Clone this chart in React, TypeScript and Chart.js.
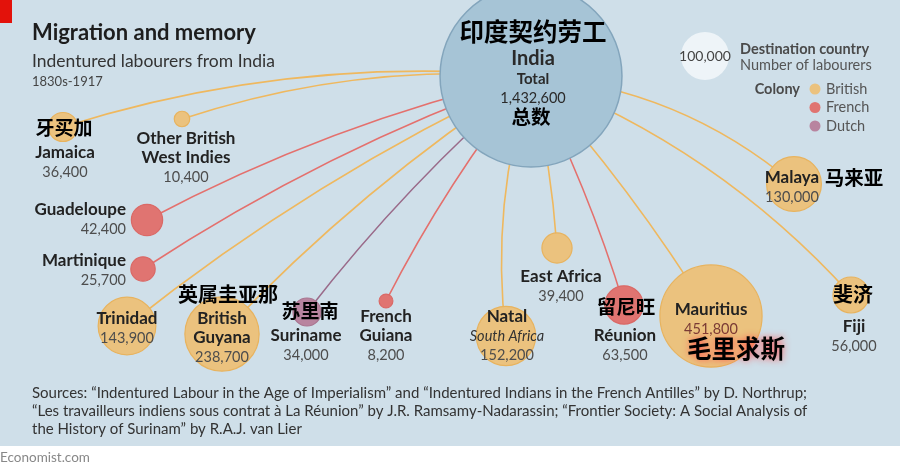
import React, { useEffect, useRef } from 'react';
import { Chart, registerables } from 'chart.js';

Chart.register(...registerables);

// ---------- data ----------
const destinations = [
  'Jamaica', 'Other British West Indies', 'Guadeloupe', 'Martinique', 'Trinidad',
  'British Guyana', 'Suriname', 'French Guiana', 'Natal', 'East Africa',
  'Réunion', 'Mauritius', 'Malaya', 'Fiji',
];
const labourers = [36400, 10400, 42400, 25700, 143900, 238700, 34000, 8200, 152200, 39400, 63500, 451800, 130000, 56000];
const colonies = ['British', 'British', 'French', 'French', 'British', 'British', 'Dutch', 'French', 'British', 'British', 'French', 'British', 'British', 'British'];
const chineseNames = ['牙买加', '', '', '', '', '英属圭亚那', '苏里南', '', '', '', '留尼旺', '毛里求斯', '马来亚', '斐济'];
const nameLines = [
  ['Jamaica'], ['Other British', 'West Indies'], ['Guadeloupe'], ['Martinique'], ['Trinidad'],
  ['British', 'Guyana'], ['Suriname'], ['French', 'Guiana'], ['Natal'], ['East Africa'],
  ['Réunion'], ['Mauritius'], ['Malaya'], ['Fiji'],
];
const subNames = ['', '', '', '', '', '', '', '', 'South Africa', '', '', '', '', ''];
const originName = 'India';
const originTotal = 1432600;
const legendValue = 100000;
const colonyTypes = ['British', 'French', 'Dutch'];

// ---------- layout (positions on a 900 x 472 plane) ----------
const origin = { x: 531, y: 76 };
const legendBubble = { x: 705, y: 56 };
const bubbleX = [63, 182, 147, 143, 127, 222, 307, 386, 506, 557, 624, 711, 794, 851];
const bubbleY = [127, 119, 220, 269, 326, 334, 312, 301, 336, 248, 305, 316, 184, 295];
const curveBend = [0.10, 0.10, 0.065, 0.06, 0.06, 0.06, 0.05, 0.05, 0.11, 0.04, 0.045, 0.045, 0.16, 0.12];
const labelX = [65, 186, 126, 126, 127, 222, 306, 386, 507, 561, 625, 711, 792, 854];
const labelY = [153, 139, 210, 261, 319, 319, 336, 317, 317, 277, 336, 310, 178, 327];
const labelAlign = ['center', 'center', 'right', 'right', 'center', 'center', 'center', 'center', 'center', 'center', 'center', 'center', 'center', 'center'];
const cnX = [64, 0, 0, 0, 0, 228, 310, 0, 0, 0, 626, 736, 854, 853];
const cnY = [128, 0, 0, 0, 0, 294, 311, 0, 0, 0, 307, 349, 178, 294];
const cnSize = [19, 0, 0, 0, 0, 20, 19, 0, 0, 0, 19.5, 24.5, 19.5, 20];

const RADIUS_K = 0.076;
const fillColor: Record<string, string> = { British: '#ebc27e', French: '#e07471', Dutch: '#b8849f' };
const borderColor: Record<string, string> = { British: '#e8b35e', French: '#da6966', Dutch: '#a97590' };
const lineColor: Record<string, string> = { British: '#efb85e', French: '#e4706d', Dutch: '#9a6b8a' };

const LATIN = 'Lato, "Open Sans", sans-serif';
const CJK = '"Noto Sans CJK SC", sans-serif';

const fmt = (v: number) => v.toLocaleString('en-US');
const radius = (v: number) => RADIUS_K * Math.sqrt(v);

export default function App() {
  const ref = useRef<HTMLCanvasElement | null>(null);

  useEffect(() => {
    document.body.style.margin = '0';
    const canvas = ref.current;
    if (!canvas) return;

    const backgroundPlugin = {
      id: 'bg',
      beforeDraw(chart: any) {
        const ctx = chart.ctx;
        ctx.save();
        ctx.fillStyle = '#ffffff';
        ctx.fillRect(0, 0, chart.width, chart.height);
        ctx.fillStyle = '#cfdfe9';
        ctx.fillRect(0, 0, chart.width, 446);
        ctx.fillStyle = '#e3120b';
        ctx.fillRect(0, 0, 12, 23);
        ctx.textBaseline = 'middle';
        ctx.textAlign = 'left';
        ctx.fillStyle = '#1d1d1d';
        ctx.font = `bold 22px ${LATIN}`;
        ctx.fillText('Migration and memory', 32, 33);
        ctx.fillStyle = '#333';
        ctx.font = `17.5px ${LATIN}`;
        ctx.fillText('Indentured labourers from India', 32, 61);
        ctx.fillStyle = '#444';
        ctx.font = `13px ${LATIN}`;
        ctx.fillText('1830s-1917', 32, 82);
        // sources
        ctx.fillStyle = '#333';
        ctx.font = `15px ${LATIN}`;
        ctx.fillText('Sources: “Indentured Labour in the Age of Imperialism” and “Indentured Indians in the French Antilles” by D. Northrup;', 32, 393);
        ctx.fillText('“Les travailleurs indiens sous contrat à La Réunion” by J.R. Ramsamy-Nadarassin; “Frontier Society: A Social Analysis of', 32, 411);
        ctx.fillText('the History of Surinam” by R.A.J. van Lier', 32, 429);
        ctx.fillStyle = '#888';
        ctx.font = `13.5px ${LATIN}`;
        ctx.fillText('Economist.com', 0, 458);
        ctx.restore();
      },
    };

    const curvesPlugin = {
      id: 'curves',
      beforeDatasetsDraw(chart: any) {
        const ctx = chart.ctx;
        const xs = chart.scales.x;
        const ys = chart.scales.y;
        const sx = xs.getPixelForValue(origin.x);
        const sy = ys.getPixelForValue(origin.y);
        ctx.save();
        ctx.lineWidth = 1.6;
        destinations.forEach((_, i) => {
          const dx = xs.getPixelForValue(bubbleX[i]);
          const dy = ys.getPixelForValue(bubbleY[i]);
          const vx = dx - sx;
          const vy = dy - sy;
          const len = Math.hypot(vx, vy);
          let nx = vy / len;
          let ny = -vx / len;
          if (ny > 0) { nx = -nx; ny = -ny; }
          const cx = (sx + dx) / 2 + nx * curveBend[i] * len;
          const cy = (sy + dy) / 2 + ny * curveBend[i] * len;
          ctx.strokeStyle = lineColor[colonies[i]];
          ctx.beginPath();
          ctx.moveTo(sx, sy);
          ctx.quadraticCurveTo(cx, cy, dx, dy);
          ctx.stroke();
        });
        ctx.restore();
      },
    };

    const labelsPlugin = {
      id: 'labels',
      afterDatasetsDraw(chart: any) {
        const ctx = chart.ctx;
        const xs = chart.scales.x;
        const ys = chart.scales.y;
        ctx.save();
        ctx.textBaseline = 'middle';
        destinations.forEach((_, i) => {
          const x = xs.getPixelForValue(labelX[i]);
          let y = ys.getPixelForValue(labelY[i]);
          ctx.textAlign = labelAlign[i] as CanvasTextAlign;
          ctx.fillStyle = '#222';
          ctx.font = `bold 17px ${LATIN}`;
          nameLines[i].forEach((line) => {
            ctx.fillText(line, x, y);
            y += 19;
          });
          if (subNames[i]) {
            ctx.font = `italic 14.5px ${LATIN}`;
            ctx.fillStyle = '#333';
            ctx.fillText(subNames[i], x, y);
            y += 19.5;
          }
          ctx.font = `14.5px ${LATIN}`;
          ctx.fillStyle = destinations[i] === 'Mauritius' ? '#7a3b35' : '#4d4d4d';
          ctx.fillText(fmt(labourers[i]), x, y);
        });

        // India label
        const ix = xs.getPixelForValue(origin.x) + 2;
        ctx.textAlign = 'center';
        ctx.fillStyle = '#2a2a2a';
        ctx.font = `bold 20px ${LATIN}`;
        ctx.fillText(originName, ix, 59);
        ctx.font = `bold 15px ${LATIN}`;
        ctx.fillText('Total', ix, 79);
        ctx.font = `14.5px ${LATIN}`;
        ctx.fillText(fmt(originTotal), ix, 98);

        // Legend
        ctx.fillStyle = '#444';
        ctx.font = `14px ${LATIN}`;
        ctx.fillText(fmt(legendValue), xs.getPixelForValue(legendBubble.x), ys.getPixelForValue(legendBubble.y));
        ctx.textAlign = 'left';
        ctx.font = `bold 14.5px ${LATIN}`;
        ctx.fillStyle = '#4a4a4a';
        ctx.fillText('Destination country', 740, 49);
        ctx.font = `14.5px ${LATIN}`;
        ctx.fillStyle = '#555';
        ctx.fillText('Number of labourers', 740, 65);
        ctx.textAlign = 'right';
        ctx.font = `bold 14.5px ${LATIN}`;
        ctx.fillStyle = '#4a4a4a';
        ctx.fillText('Colony', 800, 89);
        ctx.textAlign = 'left';
        ctx.font = `14.5px ${LATIN}`;
        colonyTypes.forEach((c, k) => {
          const yy = 89 + k * 18.5;
          ctx.fillStyle = fillColor[c];
          ctx.beginPath();
          ctx.arc(815, yy, 5.5, 0, Math.PI * 2);
          ctx.fill();
          ctx.fillStyle = '#555';
          ctx.fillText(c, 826, yy);
        });

        // Chinese labels
        ctx.textAlign = 'center';
        ctx.fillStyle = '#000';
        ctx.font = `bold 24.5px ${CJK}`;
        ctx.fillText('印度契约劳工', ix, 32);
        ctx.font = `bold 19.5px ${CJK}`;
        ctx.fillText('总数', ix - 2, 117);
        destinations.forEach((_, i) => {
          if (!chineseNames[i]) return;
          ctx.save();
          ctx.font = `bold ${cnSize[i]}px ${CJK}`;
          if (destinations[i] === 'Mauritius') {
            ctx.shadowColor = 'rgba(255,70,70,0.85)';
            ctx.shadowBlur = 7;
          }
          ctx.fillStyle = '#000';
          ctx.fillText(chineseNames[i], xs.getPixelForValue(cnX[i]), ys.getPixelForValue(cnY[i]));
          ctx.restore();
        });
        ctx.restore();
      },
    };

    const chart = new Chart(canvas, {
      type: 'bubble',
      data: {
        datasets: [
          {
            label: 'Legend',
            data: [{ x: legendBubble.x, y: legendBubble.y, r: radius(legendValue) }],
            backgroundColor: '#eef4f8',
            borderColor: '#eef4f8',
            borderWidth: 0,
            clip: false,
          },
          {
            label: 'Destinations',
            data: destinations.map((_, i) => ({ x: bubbleX[i], y: bubbleY[i], r: radius(labourers[i]) })),
            backgroundColor: colonies.map((c) => fillColor[c]),
            borderColor: colonies.map((c) => borderColor[c]),
            borderWidth: 1.2,
            clip: false,
          },
          {
            label: originName,
            data: [{ x: origin.x, y: origin.y, r: radius(originTotal) }],
            backgroundColor: '#a6c4d6',
            borderColor: '#83a5bc',
            borderWidth: 1.5,
            clip: false,
          },
        ],
      },
      options: {
        responsive: false,
        animation: false,
        events: [],
        layout: { padding: 0, autoPadding: false },
        scales: {
          x: { type: 'linear', min: 0, max: 900, display: false },
          y: { type: 'linear', min: 0, max: 472, reverse: true, display: false },
        },
        plugins: {
          legend: { display: false },
          tooltip: { enabled: false },
        },
      },
      plugins: [backgroundPlugin, curvesPlugin, labelsPlugin],
    });

    return () => chart.destroy();
  }, []);

  return <canvas ref={ref} width={900} height={472} style={{ display: 'block' }} />;
}
